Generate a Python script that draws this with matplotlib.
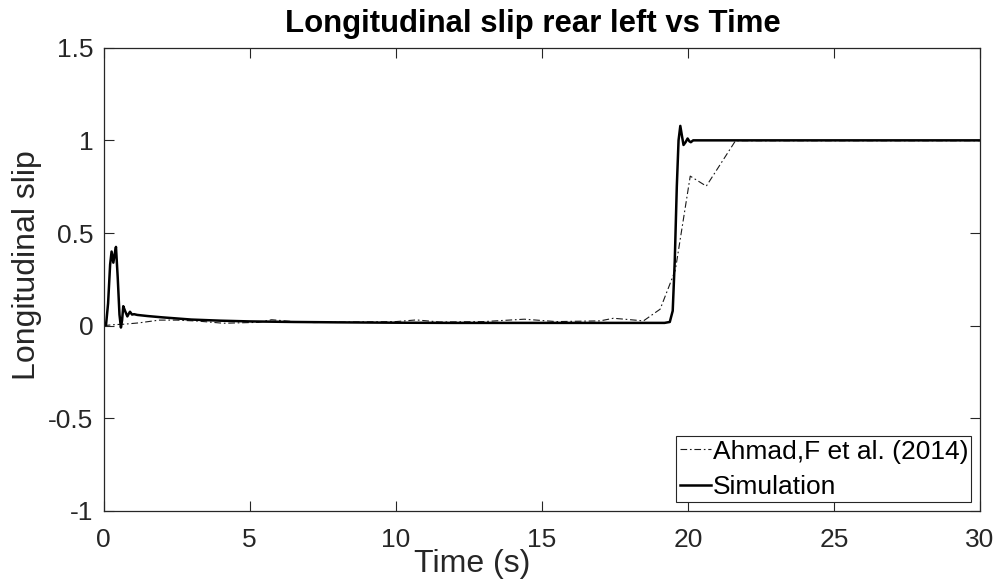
import matplotlib
matplotlib.use('Agg')
import matplotlib.pyplot as plt

plt.rcParams['font.family'] = ['Liberation Sans', 'DejaVu Sans']

# simulation result
t_sim = [0, 0.08, 0.15, 0.22, 0.27, 0.33, 0.38, 0.42, 0.48, 0.54, 0.59, 0.63,
         0.67, 0.73, 0.81, 0.86, 0.9, 0.97, 1.04, 1.15, 1.5, 2.0, 3.0, 4.0,
         5.0, 6.5, 8.0, 10.0, 12.0, 15.0, 19.2, 19.38, 19.48, 19.55, 19.62,
         19.68, 19.74, 19.79, 19.85, 19.92, 19.99, 20.05, 20.1, 20.18, 20.3,
         25.0, 30.0]
y_sim = [0, 0.005, 0.12, 0.33, 0.4, 0.34, 0.39, 0.425, 0.26, 0.06, -0.01, 0.03,
         0.105, 0.08, 0.05, 0.065, 0.075, 0.06, 0.062, 0.058, 0.052, 0.045,
         0.033, 0.027, 0.023, 0.02, 0.018, 0.016, 0.015, 0.015, 0.015, 0.02,
         0.08, 0.35, 0.75, 1.0, 1.078, 1.03, 0.975, 0.99, 1.01, 0.995, 0.99,
         1.0, 1.0, 1.0, 1.0]

# Ahmad, F et al. (2014)
t_ref = [0, 0.3, 0.7, 1.2, 1.9, 2.5, 3.2, 4.1, 5.3, 5.75, 6.5, 7.2, 8.5, 10.0,
         10.7, 11.5, 13.0, 14.4, 15.5, 17.0, 17.45, 18.48, 19.05, 19.57, 20.08,
         20.63, 21.63, 30.0]
y_ref = [0, 0.005, 0.008, 0.015, 0.03, 0.03, 0.025, 0.013, 0.018, 0.032,
         0.022, 0.017, 0.02, 0.022, 0.031, 0.02, 0.022, 0.035, 0.022, 0.026,
         0.04, 0.026, 0.089, 0.30, 0.807, 0.753, 0.998, 0.998]

xticks = [0, 5, 10, 15, 20, 25, 30]
yticks = [-1, -0.5, 0, 0.5, 1, 1.5]
ytick_labels = ['-1', '-0.5', '0', '0.5', '1', '1.5']

fig = plt.figure(figsize=(10, 5.83), dpi=100)
ax = fig.add_axes([0.1037, 0.1235, 0.8763, 0.7947])

ax.plot(t_ref, y_ref, color='#1a1a1a', lw=0.8, dashes=(6, 2.5, 1.5, 2.5),
        label='Ahmad,F et al. (2014)')
ax.plot(t_sim, y_sim, color='black', lw=1.8, label='Simulation')

ax.set_xlim(0, 30)
ax.set_ylim(-1, 1.5)
ax.set_xticks(xticks)
ax.set_yticks(yticks)
ax.set_yticklabels(ytick_labels)

gray = '#262626'
for s in ax.spines.values():
    s.set_color(gray)
    s.set_linewidth(0.9)
ax.tick_params(direction='in', length=7.2, width=0.8, color=gray,
               labelcolor=gray, labelsize=19, top=True, right=True)
ax.tick_params(axis='x', pad=12)
ax.tick_params(axis='y', pad=7.5)

ax.set_title('Longitudinal slip rear left vs Time', fontsize=22.4,
             fontweight='bold', pad=11.5, x=0.49)
ax.set_xlabel('Time (s)', fontsize=23, color=gray)
ax.xaxis.set_label_coords(0.420, -0.1317)
ax.xaxis.label.set_va('baseline')
ax.set_ylabel('Longitudinal slip', fontsize=23, color=gray)
ax.yaxis.set_label_coords(-0.0785, 0.531)
ax.yaxis.label.set_va('baseline')

leg = ax.legend(loc='lower right', fontsize=19, frameon=True, fancybox=False,
                framealpha=1, edgecolor=gray, borderpad=0.12,
                handlelength=1.2, handletextpad=0.05, labelspacing=0.44,
                borderaxespad=0.33)
leg.get_frame().set_linewidth(0.8)
for txt in leg.get_texts():
    txt.set_color('black')

fig.savefig('out.png', dpi=100)
